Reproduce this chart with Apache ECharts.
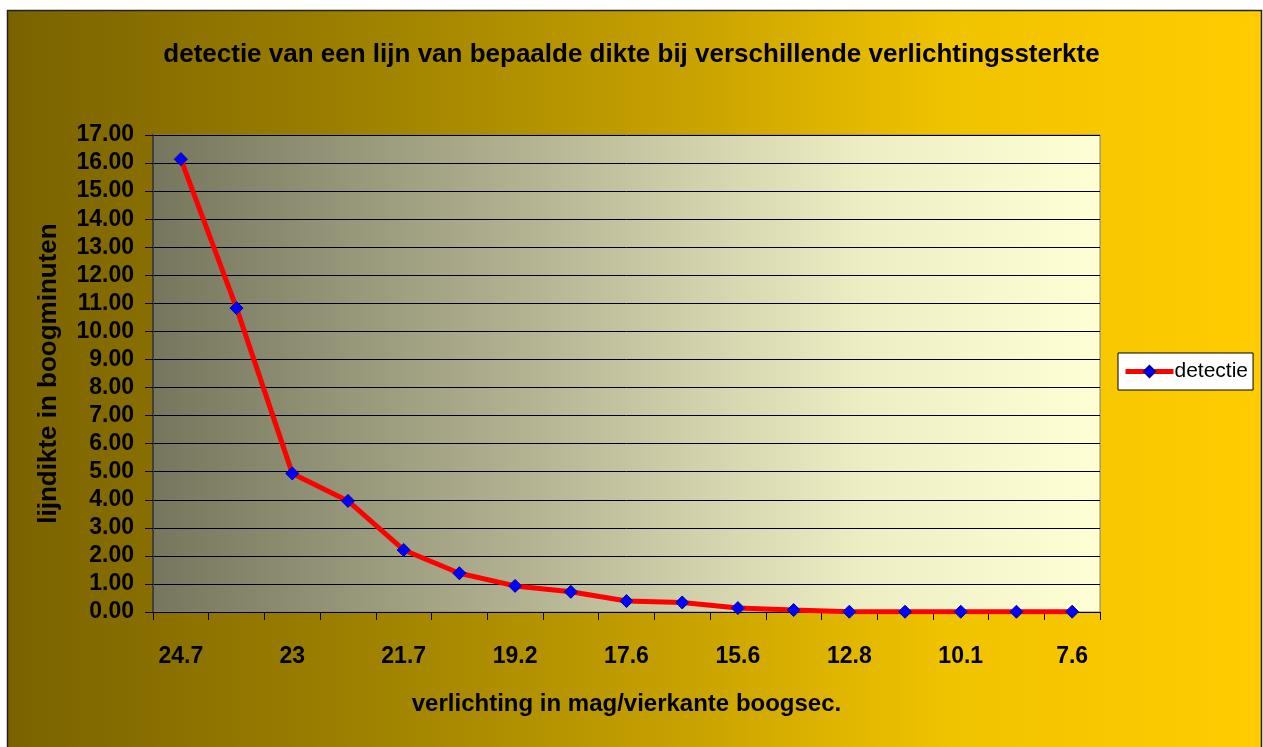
<!DOCTYPE html>
<html>
<head>
<meta charset="utf-8">
<script src="https://cdn.jsdelivr.net/npm/echarts@6/dist/echarts.min.js"></script>
<style>
  html, body { margin: 0; padding: 0; background: #fff; }
  #chart { width: 1263px; height: 747px; }
</style>
</head>
<body>
<div id="chart"></div>
<script>
// verlichting (mag/vierkante boogsec.), alleen om de andere zichtbaar
let verlichting = ["24.7", "23.8", "23", "22.3", "21.7", "20.4", "19.2", "18.4", "17.6",
                   "16.6", "15.6", "14.2", "12.8", "11.5", "10.1", "8.9", "7.6"];
// lijndikte in boogminuten
let detectie = [16.14, 10.83, 4.94, 3.96, 2.21, 1.38, 0.93, 0.72, 0.39,
                0.34, 0.14, 0.07, 0.01, 0.01, 0.01, 0.01, 0.01];

let font = "'Liberation Sans', Arial, sans-serif";

var myChart = echarts.init(document.getElementById("chart"));
myChart.setOption({
    animation: false,
    backgroundColor: "#ffffff",
    graphic: [{
        type: "rect",
        z: -100,
        shape: {x: 7.5, y: 10.5, width: 1254, height: 745},
        style: {
            fill: new echarts.graphic.LinearGradient(0, 0, 1, 0, [
                {offset: 0, color: "#7a6200"},
                {offset: 0.3, color: "#a08300"},
                {offset: 0.55, color: "#c9a300"},
                {offset: 0.75, color: "#f0c300"},
                {offset: 1, color: "#ffcc00"}
            ]),
            stroke: "#222",
            lineWidth: 1.5
        }
    }],
    title: {
        text: "detectie van een lijn van bepaalde dikte bij verschillende verlichtingssterkte",
        left: "center",
        top: 37,
        textStyle: {fontFamily: font, fontSize: 26, fontWeight: "bold", color: "#000"}
    },
    legend: {
        left: 1118,
        top: 353,
        orient: "vertical",
        backgroundColor: "#ffffff",
        borderColor: "#000",
        borderWidth: 1,
        padding: [8, 5, 8, 5],
        itemWidth: 48,
        itemHeight: 14,
        itemGap: 2,
        lineStyle: {width: 5},
        textStyle: {fontFamily: font, fontSize: 21, color: "#000", padding: [0, 0, 0, -4]},
        data: ["detectie"]
    },
    grid: {
        left: 153,
        top: 135,
        right: 163,
        bottom: 135,
        show: true,
        borderColor: "#808080",
        borderWidth: 1,
        backgroundColor: new echarts.graphic.LinearGradient(0, 0, 1, 0, [
            {offset: 0, color: "#76765e"},
            {offset: 0.4, color: "#b4b493"},
            {offset: 0.75, color: "#eeeec4"},
            {offset: 1, color: "#ffffd6"}
        ])
    },
    xAxis: {
        type: "category",
        data: verlichting,
        boundaryGap: true,
        name: "verlichting in mag/vierkante boogsec.",
        nameLocation: "middle",
        nameGap: 80,
        nameTextStyle: {fontFamily: font, fontSize: 24, fontWeight: "bold", color: "#000"},
        axisLine: {lineStyle: {color: "#000", width: 1}},
        axisTick: {show: true, interval: 0, length: 8, lineStyle: {color: "#000"}},
        axisLabel: {
            interval: 1,
            margin: 33,
            fontFamily: font,
            fontSize: 23,
            fontWeight: "bold",
            color: "#000"
        },
        splitLine: {show: false}
    },
    yAxis: {
        type: "value",
        min: 0,
        max: 17,
        interval: 1,
        name: "lijndikte in boogminuten",
        nameLocation: "middle",
        nameGap: 91,
        nameTextStyle: {fontFamily: font, fontSize: 26, fontWeight: "bold", color: "#000"},
        axisLine: {show: true, lineStyle: {color: "#404040", width: 2}},
        axisTick: {show: true, length: 8, lineStyle: {color: "#000"}},
        axisLabel: {
            margin: 19,
            fontFamily: font,
            fontSize: 23,
            fontWeight: "bold",
            color: "#000",
            formatter: val => val.toFixed(2)
        },
        splitLine: {show: true, lineStyle: {color: "#000", width: 1}}
    },
    series: [{
        name: "detectie",
        type: "line",
        data: detectie,
        symbol: "diamond",
        symbolSize: 13,
        lineStyle: {color: "#ff0000", width: 5},
        itemStyle: {color: "#0000ff", borderColor: "#0000a0", borderWidth: 1}
    }]
});
</script>
</body>
</html>
